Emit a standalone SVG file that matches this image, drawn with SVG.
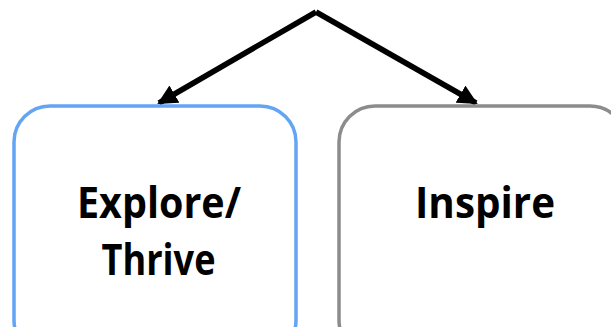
<svg xmlns="http://www.w3.org/2000/svg" width="611" height="327" viewBox="0 0 611 327">
<defs>
<style>
.lbl{font-family:"Open Sans","Liberation Sans",sans-serif;font-weight:bold;font-size:43px;fill:#000;text-anchor:middle}
.con{stroke:#000;stroke-width:5.5;fill:none}
</style>
<marker id="ah" viewBox="0 0 10 10" refX="9" refY="5" markerWidth="3.6" markerHeight="3.6" markerUnits="strokeWidth" orient="auto">
<path d="M0,0 L10,5 L0,10 z" fill="#000"/>
</marker>
</defs>
<rect width="611" height="327" fill="#fff"/>
<g id="connectors">
<path class="con" d="M316,12 L159,103" marker-end="url(#ah)"/>
<path class="con" d="M316,12 L476,103" marker-end="url(#ah)"/>
</g>
<g id="node-explore">
<rect x="14" y="106" width="282" height="250" rx="36" fill="#fff" stroke="#63A5F3" stroke-width="3.5"/>
<text class="lbl" x="159" y="218" textLength="164" lengthAdjust="spacingAndGlyphs">Explore/</text>
<text class="lbl" x="158.5" y="275" textLength="114" lengthAdjust="spacingAndGlyphs">Thrive</text>
</g>
<g id="node-inspire">
<rect x="339" y="106" width="287" height="250" rx="36" fill="#fff" stroke="#8C8C8C" stroke-width="3.5"/>
<text class="lbl" x="485" y="218" textLength="140" lengthAdjust="spacingAndGlyphs">Inspire</text>
</g>
</svg>
